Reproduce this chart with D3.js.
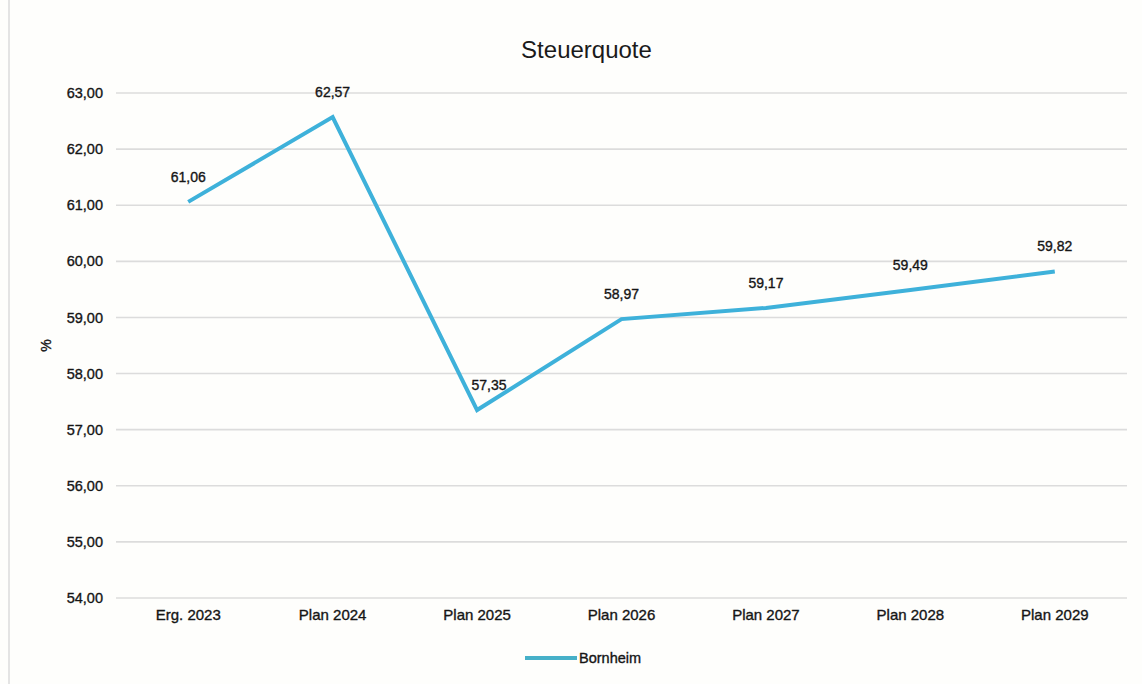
<!DOCTYPE html>
<html>
<head>
<meta charset="utf-8">
<script src="https://cdn.jsdelivr.net/npm/d3@7/dist/d3.min.js"></script>
<style>
  html, body { margin: 0; padding: 0; background: #fefefc; }
  svg { display: block; font-family: "Liberation Sans", Arial, sans-serif; }
  .lbl { fill: #151515; stroke: #151515; stroke-width: 0.35px; }
</style>
</head>
<body>
<svg id="chart" width="1142" height="684"></svg>
<script>
// Steuerquote (tax ratio) of Bornheim, result 2023 and plan years 2024–2029
const categories = ["Erg. 2023", "Plan 2024", "Plan 2025", "Plan 2026", "Plan 2027", "Plan 2028", "Plan 2029"];
const bornheim = [61.06, 62.57, 57.35, 58.97, 59.17, 59.49, 59.82];
const yTicks = [54, 55, 56, 57, 58, 59, 60, 61, 62, 63];
const seriesName = "Bornheim";
const title = "Steuerquote";
const yLabel = "%";

const svg = d3.select("#chart");
const margin = { top: 93, right: 15, bottom: 86, left: 116 };
const W = 1142, H = 684;
const innerW = W - margin.left - margin.right;
const innerH = H - margin.top - margin.bottom;

const fmt = v => d3.format(".2f")(v).replace(".", ",");

const x = d3.scaleBand().domain(categories).range([margin.left, margin.left + innerW]);
const y = d3.scaleLinear().domain([54, 63]).range([margin.top + innerH, margin.top]);

// faint page edge on the left
svg.append("line")
  .attr("x1", 9).attr("x2", 9).attr("y1", 0).attr("y2", H)
  .attr("stroke", "#e4e4e4").attr("stroke-width", 2);

// horizontal gridlines
svg.append("g")
  .selectAll("line")
  .data(yTicks)
  .join("line")
  .attr("x1", margin.left).attr("x2", margin.left + innerW)
  .attr("y1", d => y(d)).attr("y2", d => y(d))
  .attr("stroke", "#dcdcdc").attr("stroke-width", 1.6);

// y axis labels
const yAxis = d3.axisLeft(y).tickValues(yTicks).tickFormat(fmt).tickSize(0).tickPadding(13);
svg.append("g")
  .attr("transform", `translate(${margin.left},0)`)
  .call(yAxis)
  .call(g => g.select(".domain").remove())
  .call(g => g.selectAll("text")
    .attr("class", "lbl")
    .attr("font-size", 14.5)
    .attr("font-family", "'Liberation Sans', Arial, sans-serif"));

// x axis labels
const xAxis = d3.axisBottom(x).tickSize(0).tickPadding(11);
svg.append("g")
  .attr("transform", `translate(0,${margin.top + innerH})`)
  .call(xAxis)
  .call(g => g.select(".domain").remove())
  .call(g => g.selectAll("text")
    .attr("class", "lbl")
    .attr("font-size", 15)
    .attr("font-family", "'Liberation Sans', Arial, sans-serif"));

// y axis title
svg.append("text")
  .attr("class", "lbl")
  .attr("transform", `translate(51,${margin.top + innerH / 2}) rotate(-90)`)
  .attr("text-anchor", "middle")
  .attr("font-size", 14)
  .text(yLabel);

// chart title
svg.append("text")
  .attr("x", margin.left + innerW / 2 - 35).attr("y", 58)
  .attr("text-anchor", "middle")
  .attr("font-size", 24).attr("fill", "#1a1a1a")
  .text(title);

const cx = d => x(d) + x.bandwidth() / 2;
const lineColor = "#3eb1da";

// series line
const line = d3.line()
  .x((d, i) => cx(categories[i]))
  .y(d => y(d));
svg.append("path")
  .datum(bornheim)
  .attr("d", line)
  .attr("fill", "none")
  .attr("stroke", lineColor)
  .attr("stroke-width", 4)
  .attr("stroke-linejoin", "miter");

// value labels (a local minimum gets its label nudged right, clear of the line)
svg.append("g")
  .selectAll("text")
  .data(bornheim)
  .join("text")
  .attr("class", "lbl")
  .attr("x", (d, i) => cx(categories[i]) + (i > 0 && d < bornheim[i - 1] && i < bornheim.length - 1 && d < bornheim[i + 1] ? 12 : 0))
  .attr("y", d => y(d) - 20)
  .attr("text-anchor", "middle")
  .attr("font-size", 14)
  .text(fmt);

// legend
const legendY = 658;
const legendX = 525;
svg.append("line")
  .attr("x1", legendX).attr("x2", legendX + 52)
  .attr("y1", legendY).attr("y2", legendY)
  .attr("stroke", "#46b0c8").attr("stroke-width", 4);
svg.append("text")
  .attr("class", "lbl")
  .attr("x", legendX + 54).attr("y", legendY + 5)
  .attr("font-size", 14.5)
  .text(seriesName);
</script>
</body>
</html>
